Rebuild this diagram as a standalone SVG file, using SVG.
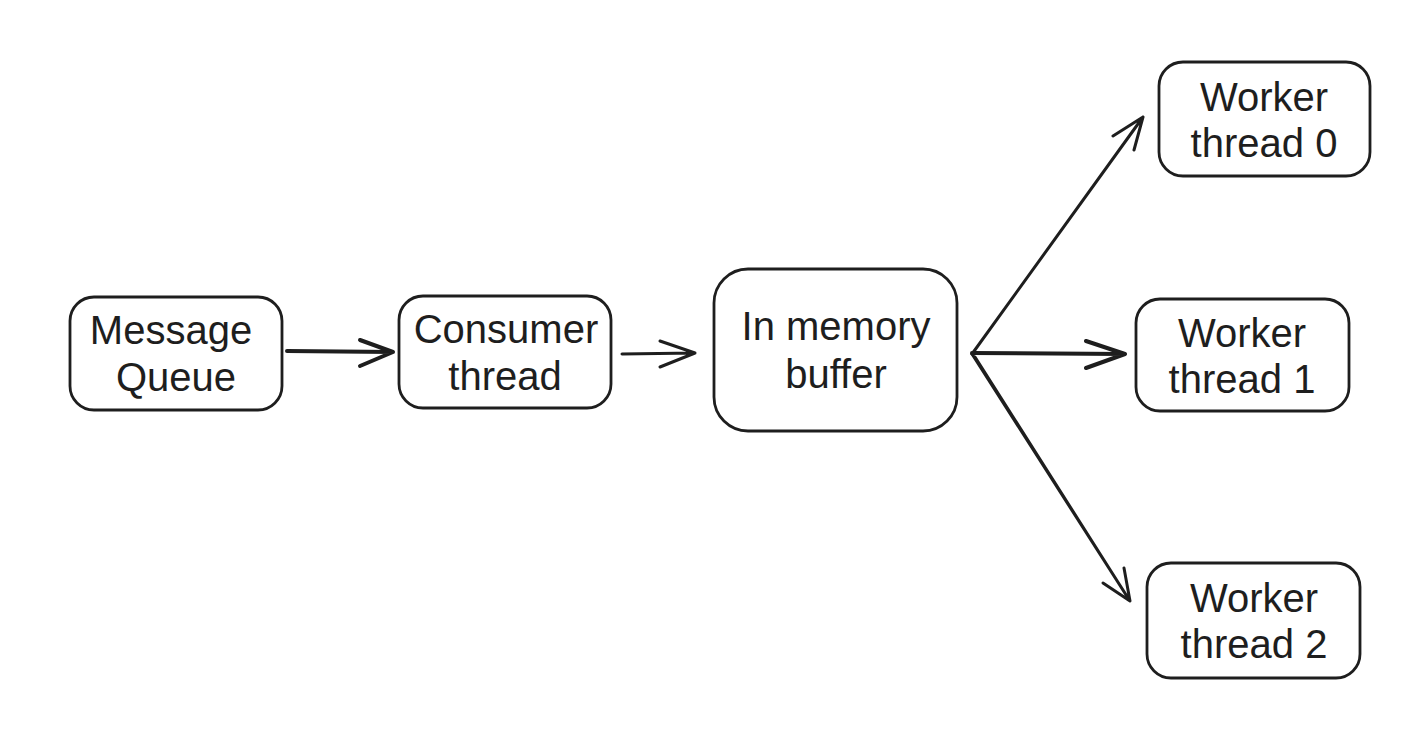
<svg xmlns="http://www.w3.org/2000/svg" width="1406" height="737" viewBox="0 0 1406 737">
<style>
.box{fill:none;stroke:#1e1e1e;stroke-width:2.8;stroke-linejoin:round}
.lbl{font-family:"Liberation Sans",Arial,sans-serif;font-size:40px;fill:#1e1e1e;text-anchor:middle}
.ln{fill:none;stroke:#1e1e1e;stroke-width:3;stroke-linecap:round;stroke-linejoin:round}
</style>
<rect width="1406" height="737" fill="#ffffff"/>
<g id="message-queue">
<rect class="box" x="70" y="297" width="212" height="113" rx="24"/>
<text class="lbl" x="171" y="344">Message</text>
<text class="lbl" x="176" y="391">Queue</text>
</g>
<g id="consumer-thread">
<rect class="box" x="399" y="296" width="212" height="112" rx="24"/>
<text class="lbl" x="506" y="343">Consumer</text>
<text class="lbl" x="505" y="390">thread</text>
</g>
<g id="in-memory-buffer">
<rect class="box" x="714" y="269" width="243" height="162" rx="34"/>
<text class="lbl" x="836" y="340">In memory</text>
<text class="lbl" x="836" y="388">buffer</text>
</g>
<g id="worker-0">
<rect class="box" x="1159" y="62" width="211" height="114" rx="24"/>
<text class="lbl" x="1264" y="111">Worker</text>
<text class="lbl" x="1264" y="157">thread 0</text>
</g>
<g id="worker-1">
<rect class="box" x="1136" y="299" width="213" height="112" rx="24"/>
<text class="lbl" x="1242" y="347">Worker</text>
<text class="lbl" x="1242" y="393">thread 1</text>
</g>
<g id="worker-2">
<rect class="box" x="1147" y="563" width="213" height="115" rx="24"/>
<text class="lbl" x="1254" y="612">Worker</text>
<text class="lbl" x="1254" y="658">thread 2</text>
</g>
<g id="connectors">
<path class="ln" style="stroke-width:4" d="M287 351 L393 352 M360 340 L393 352 L360 366"/>
<path class="ln" d="M622 354 L695 353 M660 341 L695 353 L660 367"/>
<path class="ln" d="M972 354 L1143 117 M1113 136 L1143 117 L1134 150"/>
<path class="ln" style="stroke-width:4" d="M972 353 L1125 354 M1086 341 L1125 354 L1086 368"/>
<path class="ln" d="M972 354 L1130 601 M975 357 L1128 598 M1103 583 L1130 601 L1124 568"/>
</g>
</svg>
